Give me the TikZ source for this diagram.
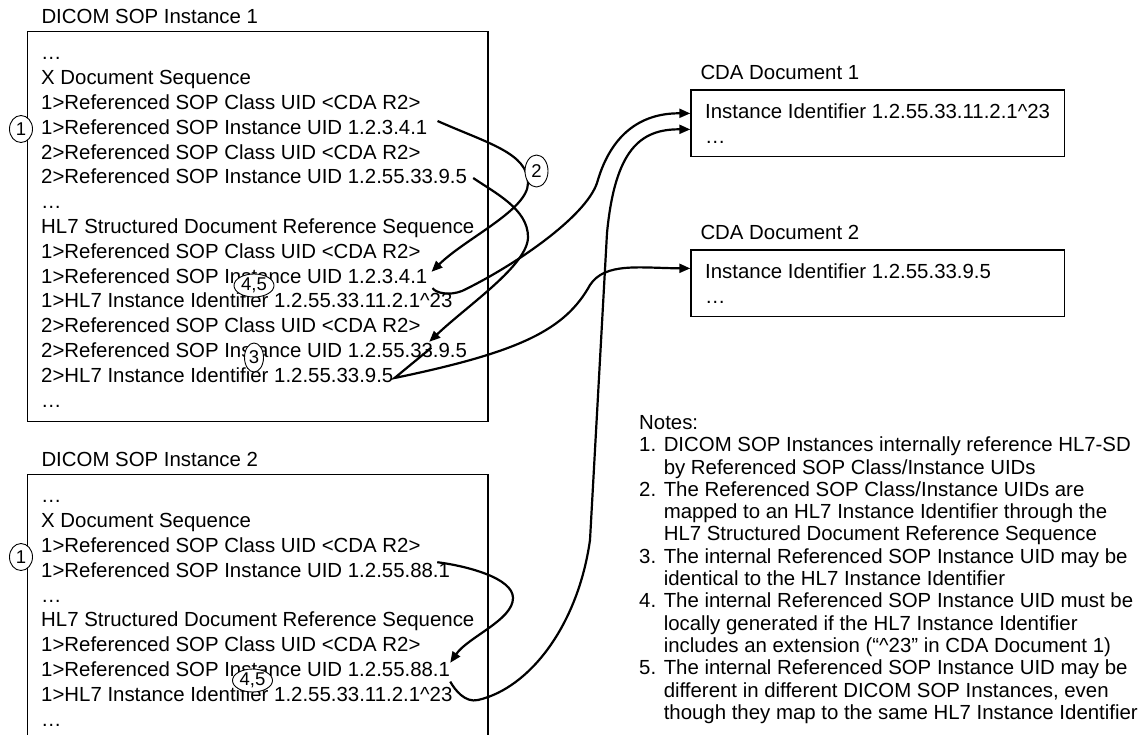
\documentclass[tikz,border=0pt]{standalone}
\usepackage{fontspec}
\setmainfont{Liberation Sans}
\usetikzlibrary{arrows.meta, positioning, fit, shapes.geometric}

\begin{document}
\begin{tikzpicture}[
    x=1pt, y=1pt,
    every node/.style={font=\fontsize{20.4}{24.4}\selectfont},
    entry/.style={inner sep=0pt, text height=19.5pt, text depth=4.9pt},
    record/.style={draw=black, line width=1.4pt, inner xsep=13.5pt, inner ysep=9pt},
    numtag/.style={ellipse, draw=black, line width=0.9pt, fill=white, inner sep=0pt,
                   minimum width=23pt, minimum height=27pt,
                   font=\fontsize{18.5}{20}\selectfont},
    notes/.style={inner sep=0pt, align=left, font=\fontsize{20.4}{22.3}\selectfont},
    refarrow/.style={-{Triangle[length=11pt, width=9pt]}, line width=2.2pt}
]
\useasboundingbox (0,0) rectangle (1143,-734);

% DICOM SOP Instance 1
\node[entry, anchor=west] (sopa0) at (41,-52.6) {…};
\node[entry, below=0pt of sopa0.south west, anchor=north west] (sopa1) {X Document Sequence};
\node[entry, below=0pt of sopa1.south west, anchor=north west] (sopa2) {1>Referenced SOP Class UID <CDA R2>};
\node[entry, below=0pt of sopa2.south west, anchor=north west] (sopa3) {1>Referenced SOP Instance UID 1.2.3.4.1};
\node[entry, below=0pt of sopa3.south west, anchor=north west] (sopa4) {2>Referenced SOP Class UID <CDA R2>};
\node[entry, below=0pt of sopa4.south west, anchor=north west] (sopa5) {2>Referenced SOP Instance UID 1.2.55.33.9.5};
\node[entry, below=0pt of sopa5.south west, anchor=north west] (sopa6) {…};
\node[entry, below=0pt of sopa6.south west, anchor=north west] (sopa7) {HL7 Structured Document Reference Sequence};
\node[entry, below=0pt of sopa7.south west, anchor=north west] (sopa8) {1>Referenced SOP Class UID <CDA R2>};
\node[entry, below=0pt of sopa8.south west, anchor=north west] (sopa9) {1>Referenced SOP Instance UID 1.2.3.4.1};
\node[entry, below=0pt of sopa9.south west, anchor=north west] (sopa10) {1>HL7 Instance Identifier 1.2.55.33.11.2.1\textasciicircum 23};
\node[entry, below=0pt of sopa10.south west, anchor=north west] (sopa11) {2>Referenced SOP Class UID <CDA R2>};
\node[entry, below=0pt of sopa11.south west, anchor=north west] (sopa12) {2>Referenced SOP Instance UID 1.2.55.33.9.5};
\node[entry, below=0pt of sopa12.south west, anchor=north west] (sopa13) {2>HL7 Instance Identifier 1.2.55.33.9.5};
\node[entry, below=0pt of sopa13.south west, anchor=north west] (sopa14) {…};
\node[record, fit=(sopa0)(sopa7)(sopa14)] (sop1) {};
\node[entry, above right=2.4pt and 14.5pt of sop1.north west] (sop1title) {DICOM SOP Instance 1};

% DICOM SOP Instance 2
\node[entry, anchor=west] (sopb0) at (41,-495.6) {…};
\node[entry, below=0pt of sopb0.south west, anchor=north west] (sopb1) {X Document Sequence};
\node[entry, below=0pt of sopb1.south west, anchor=north west] (sopb2) {1>Referenced SOP Class UID <CDA R2>};
\node[entry, below=0pt of sopb2.south west, anchor=north west] (sopb3) {1>Referenced SOP Instance UID 1.2.55.88.1};
\node[entry, below=0pt of sopb3.south west, anchor=north west] (sopb4) {…};
\node[entry, below=0pt of sopb4.south west, anchor=north west] (sopb5) {HL7 Structured Document Reference Sequence};
\node[entry, below=0pt of sopb5.south west, anchor=north west] (sopb6) {1>Referenced SOP Class UID <CDA R2>};
\node[entry, below=0pt of sopb6.south west, anchor=north west] (sopb7) {1>Referenced SOP Instance UID 1.2.55.88.1};
\node[entry, below=0pt of sopb7.south west, anchor=north west] (sopb8) {1>HL7 Instance Identifier 1.2.55.33.11.2.1\textasciicircum 23};
\node[entry, below=0pt of sopb8.south west, anchor=north west] (sopb9) {…};
\node[record, fit=(sopb0)(sopb5)(sopb9)] (sop2) {};
\node[entry, above right=2.4pt and 14.5pt of sop2.north west] (sop2title) {DICOM SOP Instance 2};

% CDA documents
\node[entry, anchor=west] (cdaa0) at (705,-111) {Instance Identifier 1.2.55.33.11.2.1\textasciicircum 23};
\node[entry, below=0pt of cdaa0.south west, anchor=north west] (cdaa1) {…};
\node[record, inner xsep=14pt, inner ysep=8.5pt, fit=(cdaa0)(cdaa1)] (cda1) {};
\node[entry, above right=5pt and 10pt of cda1.north west] (cda1title) {CDA Document 1};

\node[entry, anchor=west] (cdab0) at (705,-271) {Instance Identifier 1.2.55.33.9.5};
\node[entry, below=0pt of cdab0.south west, anchor=north west] (cdab1) {…};
\node[record, inner xsep=14pt, inner ysep=8.5pt, fit=(cdab0)(cdab1)(cdab0 -| cdaa0.east)] (cda2) {};
\node[entry, above right=5pt and 10pt of cda2.north west] (cda2title) {CDA Document 2};

% Notes (base = baseline of the last line)
\node[notes, anchor=base west] (notes) at (639,-719.3) {Notes:\\
1. DICOM SOP Instances internally reference HL7-SD\\
\hphantom{1. }by Referenced SOP Class/Instance UIDs\\
2. The Referenced SOP Class/Instance UIDs are\\
\hphantom{2. }mapped to an HL7 Instance Identifier through the\\
\hphantom{2. }HL7 Structured Document Reference Sequence\\
3. The internal Referenced SOP Instance UID may be\\
\hphantom{3. }identical to the HL7 Instance Identifier\\
4. The internal Referenced SOP Instance UID must be\\
\hphantom{4. }locally generated if the HL7 Instance Identifier\\
\hphantom{4. }includes an extension (“\textasciicircum 23” in CDA Document 1)\\
5. The internal Referenced SOP Instance UID may be\\
\hphantom{5. }different in different DICOM SOP Instances, even\\
\hphantom{5. }though they map to the same HL7 Instance Identifier};

% References inside DICOM SOP Instance 1
\draw[refarrow] ([xshift=10pt,yshift=6pt]sopa3.east) .. controls (487,-143) and (528,-153) .. (528,-183)
    .. controls (528,-210) and (466,-238) .. ([xshift=4pt,yshift=4pt]sopa9.east);
\draw[refarrow] ([xshift=6pt,yshift=-1.4pt]sopa5.east) .. controls (495,-193) and (528,-209) .. (528,-237)
    .. controls (528,-265) and (468,-305) .. ([xshift=-38pt,yshift=8.4pt]sopa12.east);

% From DICOM SOP Instance 1 to the CDA documents
\draw[refarrow] ([xshift=5pt]sopa9.south east) .. controls (436,-293) and (449,-296) .. (462,-291)
    .. controls (512,-267) and (585,-218) .. (597,-183)
    .. controls (612,-130) and (645,-113) .. ([yshift=10pt]cda1.west);
\draw[refarrow] ([xshift=-36pt,yshift=2.4pt]sopa12.east) -- ([xshift=1pt,yshift=-3pt]sopa13.east)
    .. controls (520,-352) and (565,-330) .. (590,-285)
    .. controls (605,-262) and (640,-268) .. ([yshift=15pt]cda2.west);

% DICOM SOP Instance 2
\draw[refarrow] ([xshift=-13pt,yshift=-4.6pt]sopb3.north east) .. controls (467,-566) and (513,-578) .. (513,-598)
    .. controls (513,-620) and (468,-637) .. ([yshift=6.4pt]sopb7.east);
\draw[refarrow] (sopb7.south east) .. controls (455,-690) and (465,-703) .. (478,-700)
    .. controls (530,-688) and (578,-625) .. (590,-540) -- (607,-233)
    .. controls (615,-150) and (640,-129) .. ([yshift=-6pt]cda1.west);

% Numbered tags
\node[numtag] (tag1a) at (21,-129) {1};
\node[numtag] (tag1b) at (21,-557) {1};
\node[numtag, minimum height=32pt] (tag2) at (536.5,-171) {2};
\node[numtag, minimum width=19pt, minimum height=29pt] (tag3) at (254,-357.5) {3};
\node[numtag, minimum width=40pt, minimum height=23pt] (tag45a) at (254,-285.5) {4,5};
\node[numtag, minimum width=40pt, minimum height=23pt] (tag45b) at (252.5,-680.5) {4,5};

\end{tikzpicture}
\end{document}
